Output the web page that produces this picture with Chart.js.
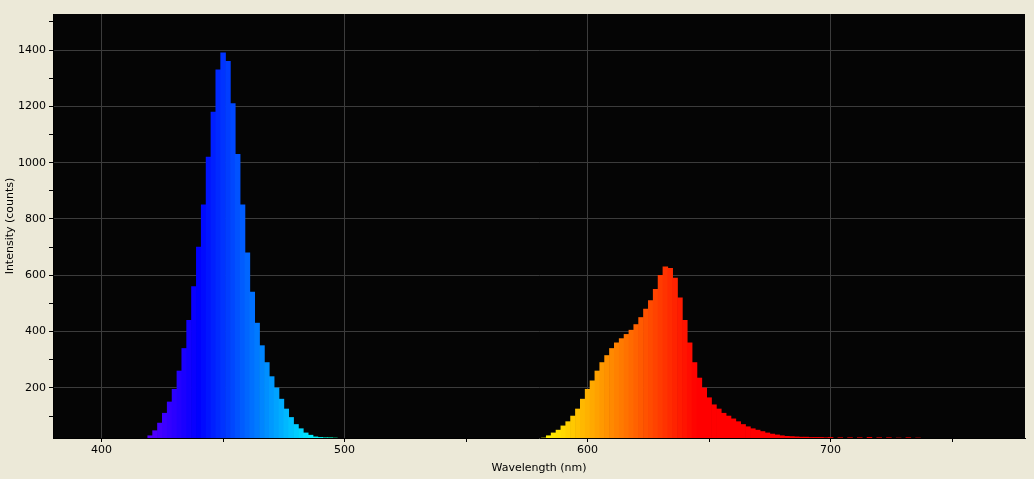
<!DOCTYPE html>
<html>
<head>
<meta charset="utf-8">
<script src="https://cdn.jsdelivr.net/npm/chart.js@4/dist/chart.umd.min.js"></script>
<style>
  html, body { margin: 0; padding: 0; background: #ece9d8; }
  #wrap { width: 1034px; height: 479px; }
</style>
</head>
<body>
<div id="wrap"><canvas id="spec"></canvas></div>
<script>
// Spectrum samples, 2 nm steps
const blueNm = [410,412,414,416,418,420,422,424,426,428,430,432,434,436,438,440,442,444,446,448,450,452,454,456,458,460,462,464,466,468,470,472,474,476,478,480,482,484,486,488,490,492,494,496];
const blueCounts = [0,3,6,10,18,30,48,75,110,150,195,260,340,440,560,700,850,1020,1180,1330,1390,1360,1210,1030,850,680,540,430,350,290,240,200,160,125,95,70,55,40,32,26,24,23,23,22];
const redNm = [570,572,574,576,578,580,582,584,586,588,590,592,594,596,598,600,602,604,606,608,610,612,614,616,618,620,622,624,626,628,630,632,634,636,638,640,642,644,646,648,650,652,654,656,658,660,662,664,666,668,670,672,674,676,678,680,682,684,686,688,690,692,694,696,698,700,704,708,712,716,720,724,728,732,736];
const redCounts = [2,3,4,6,10,15,22,30,40,50,65,80,100,125,160,195,225,260,290,315,340,360,375,390,405,425,450,480,510,550,600,630,625,590,520,440,360,290,235,200,165,140,125,110,100,90,80,70,62,55,50,45,40,36,33,30,28,27,26,25,25,24,24,24,23,24,23,23,23,24,23,23,22,23,22];
const xTicks = [400,450,500,550,600,650,700,750];
const yTicks = [100,200,300,400,500,600,700,800,900,1000,1100,1200,1300,1400,1500];

function nmColor(w) {
  let r = 0, g = 0, b = 0;
  if (w < 440) { r = (440 - w) / 60; b = 1; }
  else if (w < 490) { g = (w - 440) / 50; b = 1; }
  else if (w < 510) { g = 1; b = (510 - w) / 20; }
  else if (w < 580) { r = (w - 510) / 70; g = 1; }
  else if (w < 645) { r = 1; g = (645 - w) / 65; }
  else { r = 1; }
  return `rgb(${Math.round(r*255)},${Math.round(g*255)},${Math.round(b*255)})`;
}

const points = blueNm.map((x, i) => ({ x, y: blueCounts[i] }))
  .concat(redNm.map((x, i) => ({ x, y: redCounts[i] })));

const plotBg = {
  id: 'plotBg',
  beforeDraw(chart) {
    const a = chart.chartArea, c = chart.ctx;
    c.save(); c.fillStyle = '#050505';
    c.fillRect(a.left, a.top, a.right - a.left, a.bottom - a.top);
    c.restore();
  }
};

new Chart(document.getElementById('spec'), {
  type: 'bar',
  data: { datasets: [{ data: points, backgroundColor: ctx => nmColor(ctx.raw ? ctx.raw.x : 500), barPercentage: 1, categoryPercentage: 1, borderWidth: 0 }] },
  plugins: [plotBg],
  options: {
    responsive: true, maintainAspectRatio: false, animation: false,
    layout: { padding: { top: 14, right: 9, left: 0, bottom: 0 } },
    plugins: { legend: { display: false }, tooltip: { enabled: false } },
    scales: {
      x: {
        type: 'linear', min: 380, max: 780, offset: false,
        afterBuildTicks: s => { s.ticks = xTicks.map(v => ({ value: v })); },
        afterFit: s => { s.height = 41; },
        grid: { offset: false, color: c => c.tick && c.tick.value % 100 === 0 ? '#3c3c3c' : 'transparent', tickColor: '#000', tickLength: 4 },
        border: { color: '#000' },
        ticks: { color: '#000', font: { family: 'DejaVu Sans', size: 11 }, maxRotation: 0, padding: 2,
          callback: v => v % 100 === 0 ? v : '' },
        title: { display: true, text: 'Wavelength (nm)', color: '#000', font: { family: 'DejaVu Sans', size: 11 }, padding: { top: 0 } }
      },
      y: {
        min: 22, max: 1528,
        afterBuildTicks: s => { s.ticks = yTicks.map(v => ({ value: v })); },
        afterFit: s => { s.width = 53; },
        grid: { color: c => c.tick && c.tick.value % 200 === 0 ? '#3c3c3c' : 'transparent', tickColor: '#000', tickLength: 4 },
        border: { color: '#000' },
        ticks: { color: '#000', font: { family: 'DejaVu Sans', size: 11 }, padding: 3,
          callback: v => v % 200 === 0 ? v : '' },
        title: { display: true, text: 'Intensity (counts)', color: '#000', font: { family: 'DejaVu Sans', size: 11 }, padding: { bottom: 0 } }
      }
    }
  }
});
</script>
</body>
</html>
